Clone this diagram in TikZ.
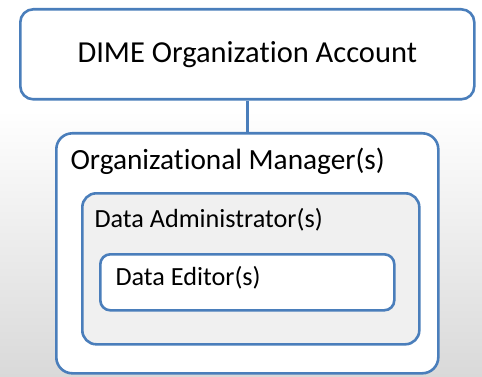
\documentclass[tikz,border=0pt]{standalone}
\usepackage{fontspec}
\setmainfont{Carlito}[Ligatures={NoCommon,NoRequired}]
\usepackage{tikz}
\usetikzlibrary{positioning}
\definecolor{edge}{HTML}{4A7EBB}
\definecolor{panel}{HTML}{F0F0F0}
\definecolor{backdrop}{HTML}{D9D9D9}
\tikzset{
  rolebox/.style={draw=edge, line width=2.6pt, rounded corners=13pt, anchor=north west, inner sep=0pt},
  link/.style={draw=edge, line width=2.6pt},
  bigtext/.style={font=\fontsize{30.5}{36}\selectfont},
  midtext/.style={font=\fontsize{29.3}{35}\selectfont, anchor=base west},
  smalltext/.style={font=\fontsize{26.2}{31}\selectfont, anchor=base west},
}

\begin{document}
\begin{tikzpicture}[x=1pt,y=-1pt]
  \useasboundingbox (0,0) rectangle (482,377);
  \fill[white] (0,0) rectangle (482,110);
  \shade[top color=white, bottom color=backdrop] (0,110) rectangle (482,377);

  \node[rolebox, fill=white, minimum width=454pt, minimum height=90pt, bigtext] (account) at (19,8) {DIME Organization Account};
  \node[rolebox, fill=white, minimum width=382pt, minimum height=240pt, rounded corners=16pt] (manager) at (55,132) {};
  \node[rolebox, fill=panel, minimum width=337pt, minimum height=151pt, rounded corners=14pt] (admin) at (81,192) {};
  \node[rolebox, fill=white, minimum width=294pt, minimum height=56pt, rounded corners=10pt] (editor) at (99,253) {};

  \draw[link] (account.south) -- (manager.north);

  \node[midtext] (managerlab) at (67,170) {Organizational Manager(s)};
  \node[smalltext] (adminlab) at (91,227) {Data Administrator(s)};
  \node[smalltext] (editorlab) at (112,285) {Data Editor(s)};
\end{tikzpicture}
\end{document}
